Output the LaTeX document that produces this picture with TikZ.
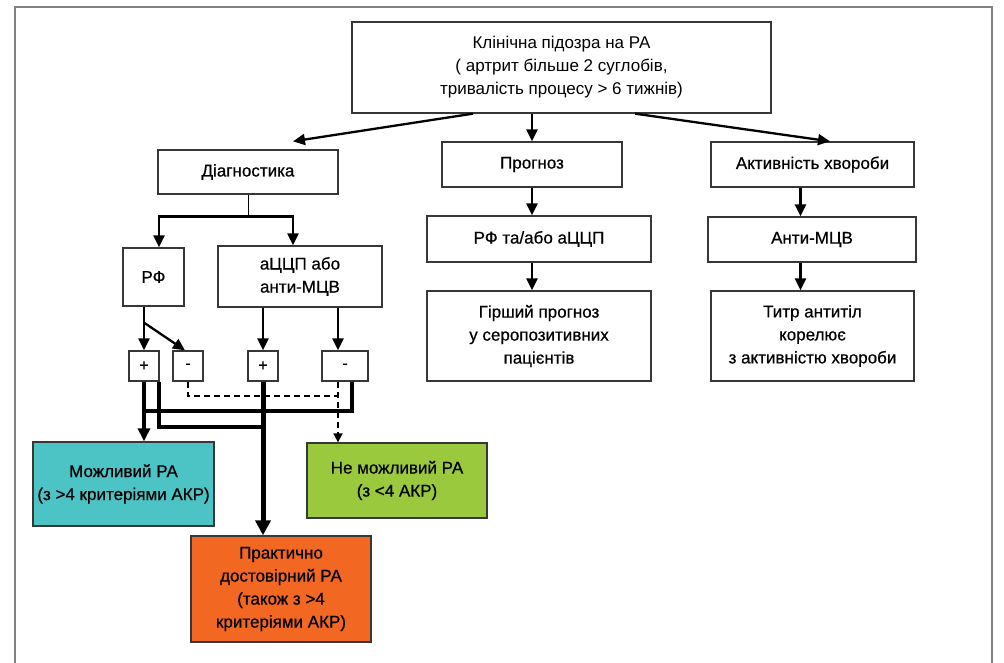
\documentclass[tikz,border=0pt]{standalone}
\usepackage{fontspec}
\setmainfont{Liberation Sans}
\newfontfamily\mediumfont[FakeBold=0.6]{Liberation Sans}
\usetikzlibrary{arrows.meta}
\definecolor{framegray}{RGB}{130,130,130}
\definecolor{boxgray}{RGB}{55,55,55}
\definecolor{possiblecyan}{RGB}{76,196,198}
\definecolor{notgreen}{RGB}{155,201,61}
\definecolor{practorange}{RGB}{242,104,34}

\begin{document}
\begin{tikzpicture}[x=1pt,y=-1pt,
    box/.style={draw=boxgray, line width=1.3pt, align=center, inner sep=0pt, font=\mediumfont\fontsize{17}{23}\selectfont},
    sign/.style={box, minimum height=30pt, font=\mediumfont\fontsize{16}{16}\selectfont},
    arr/.style={-{Triangle[length=12pt,width=11pt]}, line width=2.3pt},
    heavy/.style={line width=3.8pt},
    heavyarr/.style={heavy, -{Triangle[length=13pt,width=12pt]}},
    heaviest/.style={line width=5pt, -{Triangle[length=15pt,width=15pt]}},
    dashline/.style={line width=1.8pt, dash pattern=on 6pt off 4pt}]
\useasboundingbox (0,0) rectangle (1004,663);

% frame
\draw[framegray, line width=1.5pt] (15,663) -- (15,7) -- (992,7) -- (992,663);

% top level
\node[box, minimum width=419pt, minimum height=91pt, font=\fontsize{17}{23}\selectfont] (clin) at (561.5,67.5) {Клінічна підозра  на РА\\ ( артрит більше 2 суглобів,\\тривалість процесу > 6 тижнів)};
\node[box, minimum width=180pt, minimum height=44pt] (diag) at (248,172) {Діагностика};
\node[box, minimum width=180pt, minimum height=45pt] (prog) at (532,164.5) {Прогноз};
\node[box, minimum width=203pt, minimum height=45pt] (activ) at (812.5,164.5) {Активність хвороби};

% prognosis and activity columns
\node[box, minimum width=224pt, minimum height=46pt] (rfccp) at (539,239) {РФ та/або аЦЦП};
\node[box, minimum width=224pt, minimum height=90pt] (worse) at (539,336) {Гірший прогноз\\у серопозитивних\\пацієнтів};
\node[box, minimum width=208pt, minimum height=45pt] (antimcv) at (812,239.5) {Анти-МЦВ};
\node[box, minimum width=203pt, minimum height=90pt] (titer) at (812.5,336) {Титр антитіл\\корелює\\з активністю хвороби};

% diagnostics column
\node[box, minimum width=61pt, minimum height=58pt] (rf) at (153.5,277) {РФ};
\node[box, minimum width=164pt, minimum height=61pt] (accp) at (300,276.5) {аЦЦП або\\анти-МЦВ};
\node[sign, minimum width=30pt] (rfpos) at (144,366) {+};
\node[sign, minimum width=30pt] (rfneg) at (188,366) {-};
\node[sign, minimum width=30pt] (ccppos) at (263,366) {+};
\node[sign, minimum width=46pt] (ccpneg) at (345,366) {-};

% outcomes
\node[box, fill=possiblecyan, minimum width=181pt, minimum height=84pt] (possible) at (123.5,484) {Можливий РА\\(з >4 критеріями АКР)};
\node[box, fill=notgreen, minimum width=180pt, minimum height=75pt] (notposs) at (397,480.5) {Не можливий РА\\(з <4 АКР)};
\node[box, fill=practorange, minimum width=180pt, minimum height=106pt] (practical) at (281,589) {Практично\\достовірний РА\\(також з >4\\критеріями АКР)};

% arrows from the top box
\draw[arr] ([xshift=-88.5pt]clin.south) -- ([xshift=45pt,yshift=8pt]diag.north);
\draw[arr] (clin.south -| prog.north) -- (prog.north);
\draw[arr] ([xshift=73.5pt]clin.south) -- ([xshift=17.5pt]activ.north);

% prognosis and activity arrows
\draw[arr] (prog.south) -- (prog.south |- rfccp.north);
\draw[arr] (rfccp.south -| prog.south) -- (prog.south |- worse.north);
\coordinate (activout) at ([xshift=-12pt]activ.south);
\draw[arr] (activout) -- (activout |- antimcv.north);
\draw[arr] (activout |- antimcv.south) -- (activout |- titer.north);

% diagnostics split
\coordinate (split) at ([yshift=-22pt]diag.south);
\draw[line width=1pt] (diag.south) -- (split);
\draw[arr] (split) -| ([xshift=5.5pt]rf.north);
\draw[arr] (split) -| ([xshift=-7pt]accp.north);

\path (rf.south -| rfpos.north) ++(0,16) coordinate (rfbend);
\draw[arr] (rf.south -| rfpos.north) -- (rfpos.north);
\draw[arr] (rfbend) -- ([xshift=-3pt]rfneg.north);
\coordinate (negin) at ([xshift=-7pt]ccpneg.north);
\coordinate (negout) at ([xshift=-7pt]ccpneg.south);
\draw[arr] (accp.south -| ccppos.north) -- (ccppos.north);
\draw[arr] (negin |- accp.south) -- (negin);

% results
\draw[heavyarr] (rfpos.south) -- (rfpos.south |- possible.north);
\draw[heavy] ([xshift=-1pt]rfpos.south east) |- ([yshift=-45pt]ccppos.south);
\draw[heavy] ([xshift=7pt]ccpneg.south) |- ([yshift=-29pt]rfpos.south);
\draw[heaviest] (ccppos.south) -- (ccppos.south |- practical.north);
\draw[dashline] (rfneg.south) |- ([yshift=-14pt]negout);
\draw[dashline, -{Triangle[length=9pt,width=9pt]}] (negout) -- (negout |- notposs.north);
\end{tikzpicture}
\end{document}
